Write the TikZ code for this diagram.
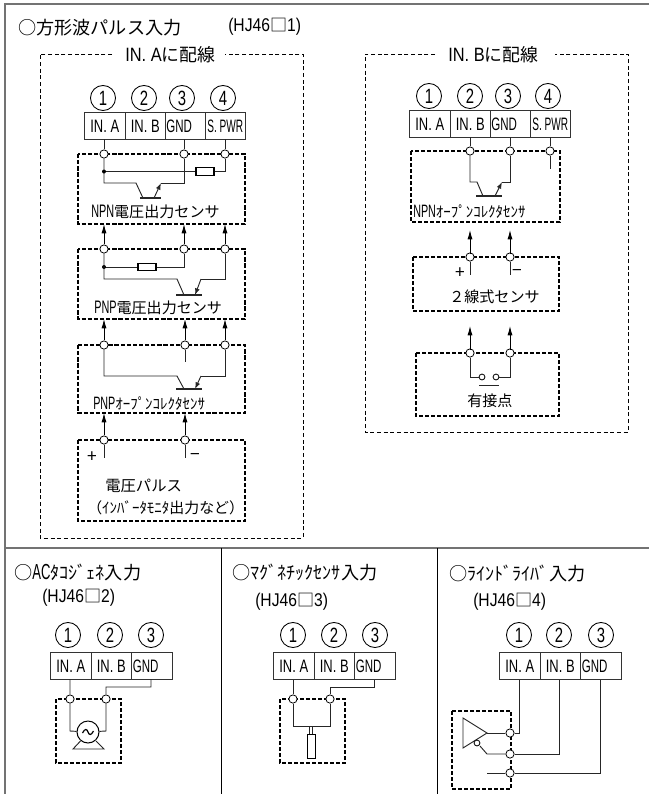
\documentclass[tikz,border=0pt]{standalone}
\usepackage{fontspec}
\usetikzlibrary{arrows.meta}
\setmainfont{Noto Sans CJK JP}
\newfontfamily\nar[FakeStretch=0.72]{Liberation Sans}
\newfontfamily\narr[FakeStretch=0.56]{Liberation Sans}
\newfontfamily\narg[FakeStretch=0.64]{Liberation Sans}
\newfontfamily\nlab[FakeStretch=0.6,Scale=1.2]{Liberation Sans}
\newfontfamily\ntit[FakeStretch=0.85,Scale=1.08]{Liberation Sans}
\tikzset{
 px/.style={x=0.75pt,y=-0.75pt},
 frameline/.style={draw=black!55,line width=1.1pt},
 wire/.style={draw=black!85,line width=0.7pt},
 sbox/.style={draw=black,line width=0.85pt,dash pattern=on 3.2pt off 1.4pt},
 obox/.style={draw=black,line width=0.6pt,dash pattern=on 3pt off 2pt},
 lbox/.style={draw=black,line width=0.78pt,dash pattern=on 3pt off 1.5pt},
 term/.style={circle,draw=black,line width=0.6pt,fill=white,inner sep=0pt,minimum size=6.2pt},
 num/.style={circle,draw=black,line width=0.65pt,inner sep=0pt,minimum size=18.8pt,font=\nar\fontsize{15.5}{16}\selectfont},
 cell/.style={draw=black!80,line width=0.75pt,inner sep=0pt,minimum width=30.4pt,minimum height=20.5pt,anchor=north west,font=\nar\fontsize{13.5}{14}\selectfont},
 uparrow/.style={draw=black,line width=0.7pt,-{Latex[length=7pt,width=3.8pt]}},
 tiparrow/.style={-{Latex[length=5pt,width=3.6pt]}},
 lab/.style={inner sep=0pt,anchor=west,font=\fontsize{11.3}{12}\selectfont},
 hlab/.style={inner sep=0pt,anchor=west,font=\fontsize{11.2}{12}\selectfont},
 title/.style={inner sep=0pt,anchor=west,font=\fontsize{13.6}{14}\selectfont},
 sub/.style={inner sep=0pt,anchor=west,font=\fontsize{12.8}{13}\selectfont},
 glab/.style={inner sep=0pt,anchor=west,font=\fontsize{13}{13}\selectfont},
}
\newcommand{\blockfour}[7]{%
 \node[cell] (#1A) at (#2,#3) {IN. A};
 \node[cell] (#1B) at (#2+40.5,#3) {IN. B};
 \node[cell,align=left,text width=28.4pt,font=\narg\fontsize{13.5}{14}\selectfont] (#1G) at (#2+80.5,#3) {GND};
 \node[cell,font=\narr\fontsize{13.5}{14}\selectfont] (#1S) at (#2+120.5,#3) {S. PWR};
 \node[num] (#1n1) at (#4,#3-14) {1};
 \node[num] (#1n2) at (#5,#3-14) {2};
 \node[num] (#1n3) at (#6,#3-14) {3};
 \node[num] (#1n4) at (#7,#3-14) {4};
}
\newcommand{\blockthree}[6]{%
 \node[cell] (#1A) at (#2,#3) {IN. A};
 \node[cell] (#1B) at (#2+40.5,#3) {IN. B};
 \node[cell,align=left,text width=28.4pt,font=\narg\fontsize{13.5}{14}\selectfont] (#1G) at (#2+81,#3) {GND};
 \node[num] (#1n1) at (#4,#3-17) {1};
 \node[num] (#1n2) at (#5,#3-17) {2};
 \node[num] (#1n3) at (#6,#3-17) {3};
}
\begin{document}
\begin{tikzpicture}[px]
\useasboundingbox (0,0) rectangle (649,794);
% outer frames
\draw[frameline] (649,4) -- (5,4) -- (5,794);
\draw[frameline] (5,548) -- (649,548);
\draw[draw=black,line width=0.75pt] (221,548) -- (221,794);
\draw[draw=black,line width=0.75pt] (437,548) -- (437,794);
% titles
\node[title] (t1) at (18,28) {○方形波パルス入力};
\node[sub] (t1b) at (228,27) {{\ntit(HJ46}□{\ntit1)}};
% dashed groups
\draw[obox] (112,54) -- (40,54) -- (40,538) -- (303,538) -- (303,54) -- (225,54);
\node[inner sep=0pt,anchor=west,font=\fontsize{13.4}{14}\selectfont] (gal) at (125,55) {{\ntit IN. A}に配線};
\draw[obox] (435,54) -- (365,54) -- (365,432) -- (628,432) -- (628,54) -- (555,54);
\node[inner sep=0pt,anchor=west,font=\fontsize{13.4}{14}\selectfont] (gbl) at (448,55) {{\ntit IN. B}に配線};
% left block
\blockfour{L}{84}{112}{103}{144}{182}{223}
% sensor boxes left
\draw[sbox] (78,154) rectangle (245,224);
\draw[sbox] (78,249) rectangle (245,319);
\draw[sbox] (78,345) rectangle (245,413);
\draw[lbox] (78,440) rectangle (245,521);
% NPN voltage
\coordinate (p1) at (104,139); \coordinate (p3) at (184,139); \coordinate (p4) at (225,139);
\node[term] (a1) at (104,154) {}; \node[term] (a3) at (184,154) {}; \node[term] (a4) at (225,154) {};
\draw[wire] (p1) -- (a1); \draw[wire] (p3) -- (a3); \draw[wire] (p4) -- (a4);
\draw[wire] (a1) -- (104,183) -- (136,183) -- (143,198);
\draw[wire,line width=1pt] (140,198) -- (161,198);
\draw[wire] (a3) -- (184,183) -- (161,183);
\draw[wire,tiparrow] (154,198) -- (161,183);
\node[draw=black,line width=0.95pt,inner sep=0pt,minimum width=13.5pt,minimum height=5.6pt] (r1) at (205,171.5) {};
\draw[wire] (104,171.5) -- (r1);
\draw[wire] (r1) -- (225,171.5) -- (a4);
\fill (104,171.5) circle (1.5pt);
\node[lab] (la) at (91,212) {{\nlab NPN}電圧出力センサ};
% PNP voltage
\node[term] (b1) at (104,249) {}; \node[term] (b3) at (184,249) {}; \node[term] (b4) at (225,249) {};
\draw[uparrow] (b1) -- (104,224); \draw[uparrow] (b3) -- (184,224); \draw[uparrow] (b4) -- (225,224);
\node[draw=black,line width=0.95pt,inner sep=0pt,minimum width=13.5pt,minimum height=5.6pt] (r2) at (147,267) {};
\draw[wire] (104,267) -- (r2);
\draw[wire] (r2) -- (184,267) -- (b3);
\fill (104,267) circle (1.5pt);
\draw[wire] (b1) -- (104,279) -- (177,279) -- (184,295);
\draw[wire,line width=1pt] (176,295) -- (202,295);
\draw[wire] (b4) -- (225,279) -- (201,279);
\draw[wire,tiparrow] (201,279) -- (195,295);
\node[lab] (lb) at (94,308) {{\nlab PNP}電圧出力センサ};
% PNP open collector
\node[term] (c1) at (104,345) {}; \node[term] (c3) at (185,345) {}; \node[term] (c4) at (225,345) {};
\draw[uparrow] (c1) -- (104,319); \draw[uparrow] (c3) -- (185,319); \draw[uparrow] (c4) -- (225,319);
\draw[wire] (c3) -- (185,362);
\draw[wire] (c1) -- (104,376) -- (177,376) -- (184,389);
\draw[wire,line width=1pt] (176,389) -- (202,389);
\draw[wire] (c4) -- (225,376) -- (201,376);
\draw[wire,tiparrow] (201,376) -- (195,389);
\node[hlab] (lc) at (93,404) {{\nlab PNP}ｵｰﾌﾟﾝｺﾚｸﾀｾﾝｻ};
% voltage pulse
\node[term] (d1) at (104,440) {}; \node[term] (d3) at (185,440) {};
\draw[uparrow] (d1) -- (104,413); \draw[uparrow] (d3) -- (185,413);
\draw[wire] (d1) -- (104,458); \draw[wire] (d3) -- (185,458);
\node[glab] (dp) at (87,457) {+};
\node[glab] (dm) at (190,457) {−};
\node[lab,font=\fontsize{11.5}{12}\selectfont] (ld) at (105,486) {電圧パルス};
\node[hlab] (le) at (87,508) {（ｲﾝﾊﾞｰﾀﾓﾆﾀ出力など）};
% right block
\blockfour{R}{409}{110}{429}{470}{508}{548}
\draw[lbox] (411,151) rectangle (560,222);
\draw[lbox] (413,257) rectangle (559,311);
\draw[lbox] (416,353) rectangle (559,416);
\coordinate (q2) at (470,137); \coordinate (q3) at (510,137); \coordinate (q4) at (550,137);
\node[term] (e2) at (470,151) {}; \node[term] (e3) at (510,151) {}; \node[term] (e4) at (550,151) {};
\draw[wire] (q2) -- (e2); \draw[wire] (q3) -- (e3); \draw[wire] (q4) -- (e4);
\draw[wire] (e4) -- (550,169);
\draw[wire] (e2) -- (470,182) -- (477,182) -- (483,196);
\draw[wire,line width=1pt] (476,196) -- (502,196);
\draw[wire] (e3) -- (510,182) -- (502,182);
\draw[wire,tiparrow] (495,196) -- (502,182);
\node[hlab] (lf) at (413,212) {{\nlab NPN}ｵｰﾌﾟﾝｺﾚｸﾀｾﾝｻ};
\node[term] (f2) at (470,257) {}; \node[term] (f3) at (510,257) {};
\coordinate (fa2) at (470,230); \coordinate (fa3) at (510,230);
\draw[uparrow] (f2) ++(0,-3) -- (fa2); \draw[uparrow] (f3) ++(0,-3) -- (fa3);
\draw[wire] (f2) -- (470,275); \draw[wire] (f3) -- (510,275);
\node[glab] (fp) at (455,273) {+};
\node[glab] (fm) at (512,273) {−};
\node[lab] (lg) at (449,297) {２線式センサ};
\node[term] (g2) at (470,353) {}; \node[term] (g3) at (510,353) {};
\coordinate (ga2) at (470,326); \coordinate (ga3) at (510,326);
\draw[uparrow] (g2) ++(0,-3) -- (ga2); \draw[uparrow] (g3) ++(0,-3) -- (ga3);
\node[circle,draw=black,line width=0.6pt,inner sep=0pt,minimum size=4.4pt] (k1) at (482,377) {};
\node[circle,draw=black,line width=0.6pt,inner sep=0pt,minimum size=4.4pt] (k2) at (496,377) {};
\draw[wire] (g2) -- (470,377) -- (k1);
\draw[wire] (g3) -- (510,377) -- (k2);
\draw[wire] (479,385) -- (499,385);
\node[lab] (lh) at (467,401) {有接点};
% AC tacho
\node[title] (t2) at (14,573) {○{\nlab AC}ﾀｺｼﾞｪﾈ入力};
\node[sub] (t2b) at (42,598) {{\ntit(HJ46}□{\ntit2)}};
\blockthree{M}{50}{652}{68}{110}{151}
\draw[lbox] (56,699) rectangle (121,763);
\node[term] (m1) at (70,699) {}; \node[term] (m2) at (106,699) {};
\node[circle,draw=black,line width=0.75pt,fill=white,inner sep=0pt,minimum size=16.5pt] (mot) at (88,732) {};
\draw[wire] (70,679) -- (m1) -- (70,731) -- (mot);
\draw[wire] (151,679) -- (151,687) -- (106,687) -- (m2) -- (106,731) -- (mot);
\draw[wire] (80.5,741) -- (73,749) -- (104,749) -- (96,741);
\draw[black,line width=0.9pt] (82.5,733) .. controls (85,728) and (87,729) .. (88,732) .. controls (89,735) and (91,736) .. (93.5,731);
% magnetic
\node[title] (t3) at (232,573) {○ﾏｸﾞﾈﾁｯｸｾﾝｻ入力};
\node[sub] (t3b) at (255,602) {{\ntit(HJ46}□{\ntit3)}};
\blockthree{N}{273}{652}{293}{334}{375}
\draw[lbox] (280,699) rectangle (345,763);
\node[term] (n1) at (293,699) {}; \node[term] (n2) at (330,699) {};
\draw[wire] (293,680) -- (n1) -- (293,726) -- (330,726) -- (n2);
\draw[wire] (374,680) -- (374,687) -- (330,687) -- (n2);
\node[draw=black,line width=0.75pt,inner sep=0pt,minimum width=6pt,minimum height=18pt] (n3) at (311,746) {};
\draw[wire] (309.5,726) -- (309.5,734); \draw[wire] (312.5,726) -- (312.5,734);
% line driver
\node[title] (t4) at (449,574) {○ﾗｲﾝﾄﾞﾗｲﾊﾞ入力};
\node[sub] (t4b) at (473,602) {{\ntit(HJ46}□{\ntit4)}};
\blockthree{P}{499}{652}{519}{559}{601}
\draw[lbox] (452,711) rectangle (511,789);
\node[term] (o1) at (510,733) {}; \node[term] (o2) at (510,754) {}; \node[term] (o3) at (510,773) {};
\draw[wire] (519,680) -- (519,733) -- (o1);
\draw[wire] (559,680) -- (559,754) -- (o2);
\draw[wire] (600,680) -- (600,773) -- (o3);
\draw[wire] (o1) -- (487,733);
\draw[wire] (o2) -- (487,754) -- (480,746);
\draw[wire] (o3) -- (487,773);
\draw[wire] (463,718) -- (463,748) -- (487,733) -- cycle;
\node[circle,draw=black,line width=0.6pt,fill=white,inner sep=0pt,minimum size=4.4pt] (o4) at (477,743) {};
\end{tikzpicture}
\end{document}
